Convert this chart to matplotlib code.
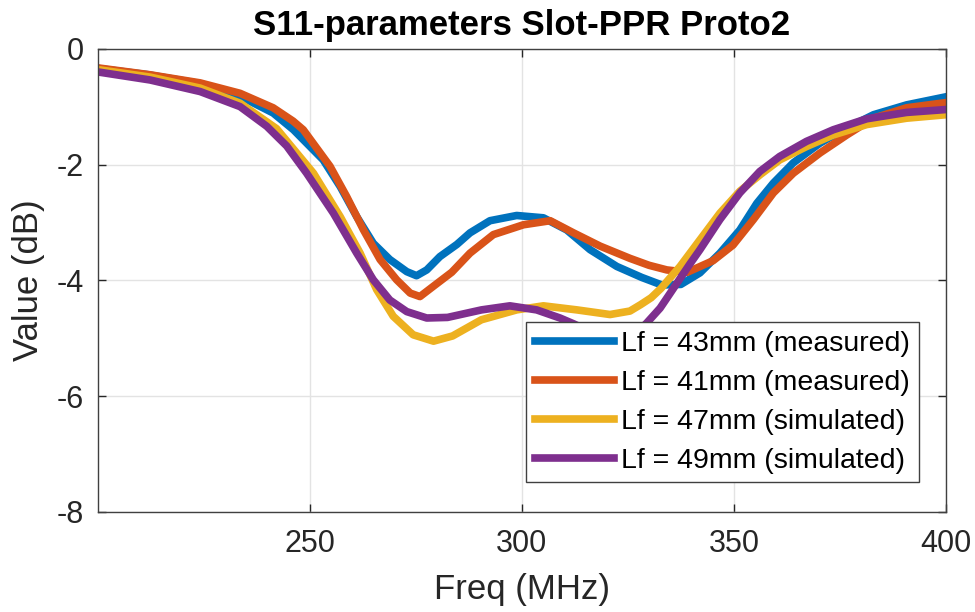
import matplotlib
matplotlib.use("Agg")
import matplotlib.pyplot as plt

plt.rcParams['font.family'] = ['Liberation Sans', 'DejaVu Sans']
plt.rcParams['axes.unicode_minus'] = False

# values, (MHz, dB)
f_43 = [200, 212, 224, 233.6, 241.4, 246.2, 253.2, 257.2, 261.1, 265, 268.9, 272.9,
        275.2, 277.6, 280.7, 284.7, 287.8, 292.5, 298.8, 305.1, 310.6, 316.1, 322.4,
        328.3, 333, 337.5, 342, 346.7, 351.4, 355.4, 359.3, 364, 370.3, 376.6, 382.9,
        390.7, 400]
s11_43 = [-0.34, -0.45, -0.60, -0.82, -1.11, -1.40, -1.92, -2.38, -2.90, -3.36, -3.64,
          -3.85, -3.92, -3.82, -3.59, -3.38, -3.18, -2.97, -2.88, -2.92, -3.13, -3.47,
          -3.76, -3.95, -4.08, -4.07, -3.87, -3.53, -3.13, -2.67, -2.32, -1.97, -1.63,
          -1.37, -1.14, -0.97, -0.83]

f_41 = [200, 212.4, 224.2, 233.6, 241.4, 246.1, 248.5, 254.8, 258.7, 262.7, 266.6,
        270.5, 273.7, 276, 279.2, 283.5, 287.8, 293.3, 300.4, 306.7, 312.2, 318.5,
        325.5, 330, 334.2, 339, 345.1, 349.8, 354.6, 359.3, 364, 370.3, 376.6, 382.9,
        390.7, 400]
s11_41 = [-0.33, -0.45, -0.59, -0.77, -1.02, -1.25, -1.40, -2.03, -2.55, -3.13, -3.64,
          -3.99, -4.22, -4.28, -4.10, -3.86, -3.53, -3.21, -3.04, -2.97, -3.18, -3.41,
          -3.62, -3.74, -3.82, -3.86, -3.66, -3.39, -2.95, -2.49, -2.15, -1.80, -1.49,
          -1.20, -1.02, -0.93]

f_47 = [200, 212.4, 224.2, 233.6, 242.2, 250.9, 257.2, 261.9, 265.8, 269.7, 274.4,
        279.2, 283.7, 290.5, 298.8, 305.1, 313, 320.8, 325.5, 328, 330.5, 332.8,
        337.3, 342, 346.7, 351.4, 356.1, 360.8, 367.1, 373.4, 381.3, 390.7, 400]
s11_47 = [-0.36, -0.49, -0.68, -0.94, -1.38, -2.15, -2.90, -3.53, -4.16, -4.62, -4.94,
          -5.05, -4.96, -4.68, -4.51, -4.44, -4.51, -4.59, -4.53, -4.42, -4.30, -4.14,
          -3.76, -3.30, -2.84, -2.46, -2.18, -1.92, -1.69, -1.49, -1.31, -1.20, -1.14]

f_49 = [200, 212.4, 224.2, 233.6, 239.9, 244.6, 249.3, 255.6, 261.1, 265, 268.9,
        272.9, 277.6, 282.5, 290.5, 297.2, 303.5, 309, 312.2, 316, 320, 323, 326,
        329.4, 332.6, 335, 337.3, 339.6, 342, 346.7, 351.4, 356.1, 360.8, 367.1,
        373.4, 381.3, 390.7, 400]
s11_49 = [-0.40, -0.54, -0.74, -1.00, -1.34, -1.68, -2.15, -2.84, -3.53, -3.99, -4.34,
          -4.54, -4.65, -4.64, -4.51, -4.44, -4.51, -4.65, -4.75, -4.88, -5.02, -5.06,
          -4.98, -4.74, -4.48, -4.22, -3.97, -3.72, -3.47, -2.95, -2.49, -2.12, -1.86,
          -1.60, -1.40, -1.21, -1.10, -1.05]

labels = ["Lf = 43mm (measured)", "Lf = 41mm (measured)",
          "Lf = 47mm (simulated)", "Lf = 49mm (simulated)"]
colors = ["#0072BD", "#D95319", "#EDB120", "#7E2F8E"]

txt = "#262626"
fig = plt.figure(figsize=(9.75, 6.12), dpi=100)
ax = fig.add_axes([0.1, 0.1634, 0.8703, 0.757])

series = [(f_43, s11_43), (f_41, s11_41), (f_47, s11_47), (f_49, s11_49)]
for (x, y), lab, c in zip(series, labels, colors):
    ax.plot(x, y, color=c, linewidth=5.5, label=lab, solid_joinstyle="round")

ax.set_xlim(200, 400)
ax.set_ylim(-8, 0)
ax.set_xticks([250, 300, 350, 400])
ax.set_yticks([-8, -6, -4, -2, 0])
ax.grid(True, color="#e3e3e3", linewidth=1)
ax.set_axisbelow(True)
ax.tick_params(direction="in", top=True, right=True, length=6, width=1,
               labelsize=22, colors=txt)
ax.tick_params(axis="x", pad=12)
ax.tick_params(axis="y", pad=10)
for sp in ax.spines.values():
    sp.set_color("#404040")
    sp.set_linewidth(1)

ax.set_xlabel("Freq (MHz)", fontsize=25, color=txt, labelpad=10)
ax.set_ylabel("Value (dB)", fontsize=25, color=txt, labelpad=8)
ax.set_title("S11-parameters Slot-PPR Proto2", fontsize=25, fontweight="bold",
             color="black", pad=10)

leg = ax.legend(loc="upper left", bbox_to_anchor=(0.505, 0.41), fontsize=20.5,
                frameon=True, fancybox=False, edgecolor="#404040", framealpha=1,
                handlelength=2.8, handletextpad=0.25, borderpad=0.3,
                labelspacing=0.46, borderaxespad=0)
leg.get_frame().set_linewidth(1)

fig.savefig("out.png", dpi=100)
